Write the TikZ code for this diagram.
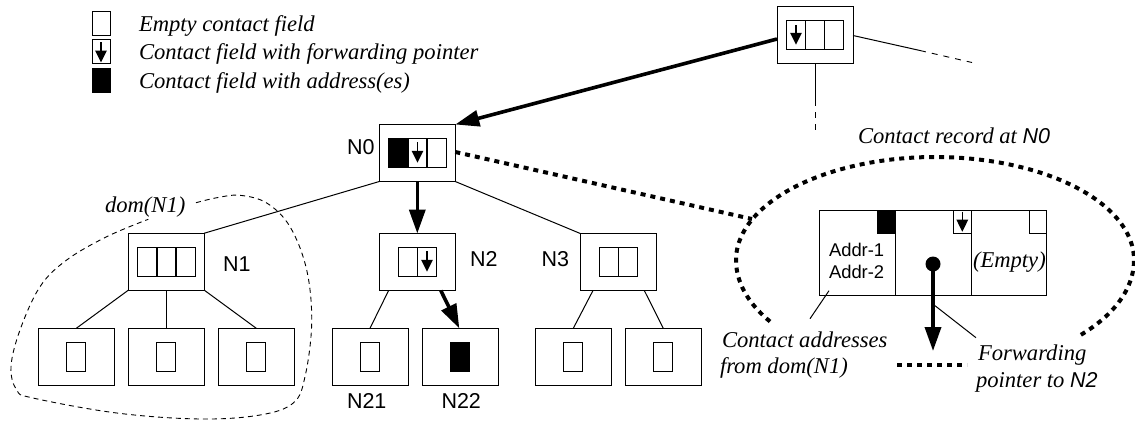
\documentclass[tikz,border=0pt]{standalone}
\usepackage{fontspec}
\setmainfont{Liberation Serif}
\setsansfont{Liberation Sans}
\usetikzlibrary{arrows.meta}
\tikzset{
  x=1pt,y=-1pt,
  every path/.style={line width=1pt},
  nbox/.style={draw,rectangle,inner sep=0,outer sep=0,minimum width=76pt,minimum height=57pt},
  cell/.style={draw,rectangle,inner sep=0,outer sep=0,minimum width=19.1pt,minimum height=28.5pt},
  smallcell/.style={draw,rectangle,inner sep=0,outer sep=0,minimum width=17.5pt,minimum height=23.5pt},
  legcell/.style={draw,rectangle,inner sep=0,outer sep=0,minimum width=18pt,minimum height=24pt},
  filled/.style={fill=black},
  ptr/.style={line width=1.5pt,-{Triangle[length=12pt,width=11.5pt]}},
  bigptr/.style={line width=3.6pt,-{Triangle[length=24pt,width=16pt]}},
  dots/.style={line width=4pt,dash pattern=on 5pt off 5pt},
  thin dash/.style={line width=0.9pt,dash pattern=on 6pt off 6pt},
  it/.style={inner sep=0,outer sep=0,anchor=base west,font=\fontsize{22.6}{26}\selectfont\itshape},
  sf/.style={inner sep=0,outer sep=0,anchor=base west,font=\fontsize{21.5}{24}\selectfont\sffamily},
  sfa/.style={inner sep=0,outer sep=0,anchor=base west,font=\fontsize{18.4}{22}\selectfont\sffamily},
}
\newcommand{\sfi}[1]{{\fontsize{21.5}{24}\selectfont\sffamily\itshape #1}}
\begin{document}
\begin{tikzpicture}
\useasboundingbox (0,0) rectangle (1135,421);
% legend
\node[legcell] (l1) at (101,23) {};
\node[legcell] (l2) at (101,51.5) {};
\node[legcell,filled] (l3) at (101,80) {};
\draw[ptr] ([yshift=-2.5pt]l2.north) -- ([yshift=1pt]l2.south);
\node[it] (t1) at (139,31) {Empty contact field};
\node[it] (t2) at (139,59) {Contact field with forwarding pointer};
\node[it] (t3) at (139,88) {Contact field with address(es)};
% boxes
\node[nbox] (top) at (815,34.5) {};
\node[nbox] (n0) at (417.3,153) {};
\node[nbox] (n1) at (166.3,261.7) {};
\node[nbox] (n2) at (417.3,262) {};
\node[nbox] (n3) at (618.3,262) {};
\node[nbox] (k1) at (76.3,356.8) {};
\node[nbox] (k2) at (166.3,356.8) {};
\node[nbox] (k3) at (256.3,356.8) {};
\node[nbox] (n21) at (370,356.8) {};
\node[nbox] (n22) at (460,356.8) {};
\node[nbox] (k4) at (573.3,356.8) {};
\node[nbox] (k5) at (663.3,356.8) {};
% cells
\node[cell] (ta) at (796,35) {};
\node[cell] (tb) at (815,35) {};
\node[cell] (tc) at (834,35) {};
\draw[ptr] ([yshift=-4.5pt]ta.north) -- ([yshift=4.5pt]ta.south);
\node[cell,filled] (z0) at (398.5,153) {};
\node[cell] (z1) at (417.5,153) {};
\node[cell] (z2) at (436.5,153) {};
\draw[ptr] ([yshift=-3.5pt]z1.north) -- ([yshift=4.5pt]z1.south);
\node[cell] (a0) at (147.5,262) {};
\node[cell] (a1) at (166.5,262) {};
\node[cell] (a2) at (185.5,262) {};
\node[cell] (b0) at (408,262) {};
\node[cell] (b1) at (427,262) {};
\draw[ptr] ([yshift=-3.5pt]b1.north) -- ([yshift=4.5pt]b1.south);
\node[cell] (c0) at (609,262) {};
\node[cell] (c1) at (628,262) {};
\node[cell] (d1) at (76.3,356.8) {};
\node[cell] (d2) at (166.3,356.8) {};
\node[cell] (d3) at (256.3,356.8) {};
\node[cell] (d4) at (370,356.8) {};
\node[cell,filled] (d5) at (460,356.8) {};
\node[cell] (d6) at (573.3,356.8) {};
\node[cell] (d7) at (663.3,356.8) {};
% tree edges
\draw (n0.south west) -- (n1.north east);
\draw (n0.south east) -- (n3.north west);
\draw (n1.south west) -- (k1.north);
\draw (n1.south) -- (k2.north);
\draw (n1.south east) -- (k3.north);
\draw ([xshift=9.3pt]n2.south west) -- (n21.north);
\draw ([xshift=12.7pt]n3.south west) -- (k4.north);
\draw ([xshift=-12pt]n3.south east) -- (k5.north);
\draw[bigptr] (top.west) ++(0,4.5) -- (n0.north east);
\draw[bigptr] (n0.south) -- (n2.north);
\draw[bigptr] ([xshift=-14.5pt]n2.south east) -- ([xshift=-0.7pt]n22.north);
% stubs
\coordinate (s1) at (920,50.5);
\coordinate (s2) at (972,62.5);
\coordinate (s3) at (815,100);
\coordinate (s4) at (815,130);
\draw ([yshift=-1pt]top.east) -- (s1);
\draw[thin dash] (s1) -- (s2);
\draw (top.south) -- (s3);
\draw[thin dash] (s3) -- (s4);
% labels
\node[sf] (ln0) at (347,154) {N0};
\node[sf] (ln1) at (223,271.7) {N1};
\node[sf] (ln2) at (470,266.7) {N2};
\node[sf] (ln3) at (541.5,266.7) {N3};
\node[sf] (ln21) at (347,408) {N21};
\node[sf] (ln22) at (441.5,408) {N22};
\node[it] (ldom) at (105,212) {dom(N1)};
% dom blob
\draw[thin dash,dash pattern=on 5pt off 4pt] plot[smooth,tension=0.6] coordinates {(196,202.7) (218,197.5) (240,195.3) (266.7,203) (290,226.7) (306.7,270) (311.7,323) (305,376.7) (293.3,403) (260,415) (200,419) (116.7,413) (33,398) (16.7,390) (11,366.7) (20,330) (40,286.7) (66.7,260) (106.7,236.7) (148.3,219.3)};
% contact record
\node[it] (lrec) at (858,143) {Contact record at \sfi{N0}};
\draw[dots] plot[domain=214:-44,samples=160] ({935+199*cos(\x)},{260-(sin(\x)>0?103:110)*sin(\x)});
\coordinate (b0l) at (897,365);
\coordinate (b0r) at (967,365);
\draw[dots] (b0l) -- (b0r);
\coordinate (e0) at (752,219);
\draw[dots] ([yshift=1pt]n0.east) -- (e0);
\node[draw,rectangle,inner sep=0,outer sep=0,minimum width=76pt,minimum height=85pt] (r1) at (857.3,252.5) {};
\node[draw,rectangle,inner sep=0,outer sep=0,minimum width=75.7pt,minimum height=85pt] (r2) at (933.2,252.5) {};
\node[draw,rectangle,inner sep=0,outer sep=0,minimum width=75.7pt,minimum height=85pt] (r3) at (1008.9,252.5) {};
\node[smallcell,filled,anchor=north east] (q1) at (r1.north east) {};
\node[smallcell,anchor=north east] (q2) at (r2.north east) {};
\node[smallcell,anchor=north east] (q3) at (r3.north east) {};
\draw[ptr] ([yshift=-1.7pt]q2.north) -- ([yshift=1.8pt]q2.south);
\node[circle,fill=black,inner sep=0,outer sep=0,minimum size=15pt] (dot) at (933,264) {};
\coordinate (tip) at (933,351);
\draw[bigptr] (dot.center) -- (tip);
\node[sfa] (ad1) at (829,256.7) {Addr-1};
\node[sfa] (ad2) at (829,278) {Addr-2};
\node[it] (emp) at (973,267.7) {(Empty)};
\node[it] (ca1) at (722,347) {Contact addresses};
\node[it] (ca2) at (720,373) {from dom(N1)};
\node[it] (fp1) at (978,360) {Forwarding};
\node[it] (fp2) at (976,387) {pointer to \sfi{N2}};
\coordinate (ld1a) at (829,290.7);
\coordinate (ld1b) at (810,318.7);
\coordinate (ld2a) at (935,305.7);
\coordinate (ld2b) at (976,337.7);
\draw (ld1a) -- (ld1b);
\draw (ld2a) -- (ld2b);
\end{tikzpicture}
\end{document}
